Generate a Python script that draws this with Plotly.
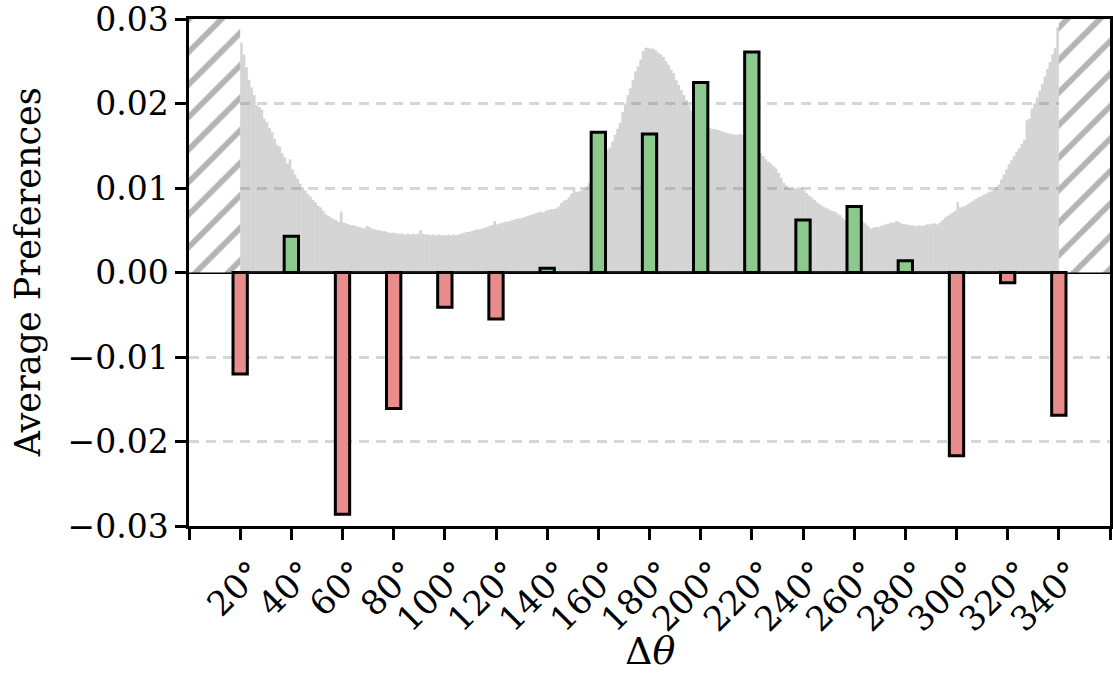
import plotly.graph_objects as go

# ---- data ----
angles = [20, 40, 60, 80, 100, 120, 140, 160, 180, 200, 220, 240, 260, 280, 300, 320, 340]
prefs = [-0.0120, 0.0043, -0.0286, -0.0161, -0.0041, -0.0055, 0.0005, 0.0166, 0.0164,
         0.0225, 0.0261, 0.0062, 0.0078, 0.0014, -0.0217, -0.0012, -0.0169]

hist_start = 20   # first histogram bin edge (degrees), bins are 1 degree wide
hist_vals = [
    0.0272, 0.0258, 0.0243, 0.0228, 0.0219, 0.0210, 0.0198, 0.0196, 0.0193, 0.0182,
    0.0178, 0.0171, 0.0166, 0.0158, 0.0151, 0.0149, 0.0141, 0.0136, 0.0129, 0.0134,
    0.0122, 0.0116, 0.0111, 0.0105, 0.0101, 0.0097, 0.0093, 0.0090, 0.0086, 0.0083,
    0.0079, 0.0077, 0.0073, 0.0069, 0.0067, 0.0065, 0.0063, 0.0062, 0.0060, 0.0072,
    0.0059, 0.0058, 0.0057, 0.0056, 0.0056, 0.0055, 0.0054, 0.0053, 0.0052, 0.0055,
    0.0054, 0.0052, 0.0051, 0.0050, 0.0050, 0.0049, 0.0049, 0.0048, 0.0047, 0.0047,
    0.0047, 0.0046, 0.0046, 0.0046, 0.0045, 0.0046, 0.0045, 0.0046, 0.0045, 0.0046,
    0.0050, 0.0046, 0.0045, 0.0045, 0.0044, 0.0045, 0.0044, 0.0045, 0.0044, 0.0044,
    0.0044, 0.0045, 0.0044, 0.0045, 0.0044, 0.0045, 0.0046, 0.0047, 0.0048, 0.0048,
    0.0049, 0.0050, 0.0051, 0.0051, 0.0052, 0.0053, 0.0054, 0.0055, 0.0056, 0.0061,
    0.0057, 0.0058, 0.0059, 0.0060, 0.0060, 0.0061, 0.0062, 0.0063, 0.0064, 0.0064,
    0.0065, 0.0066, 0.0067, 0.0068, 0.0069, 0.0070, 0.0071, 0.0072, 0.0071, 0.0073,
    0.0074, 0.0075, 0.0075, 0.0076, 0.0078, 0.0082, 0.0085, 0.0086, 0.0089, 0.0093,
    0.0101, 0.0095, 0.0096, 0.0097, 0.0099, 0.0102, 0.0106, 0.0112, 0.0120, 0.0128,
    0.0134, 0.0138, 0.0142, 0.0145, 0.0148, 0.0155, 0.0163, 0.0170, 0.0177, 0.0190,
    0.0200, 0.0210, 0.0218, 0.0228, 0.0238, 0.0244, 0.0252, 0.0262, 0.0266, 0.0266,
    0.0265, 0.0265, 0.0263, 0.0260, 0.0258, 0.0255, 0.0250, 0.0246, 0.0240, 0.0236,
    0.0228, 0.0222, 0.0216, 0.0210, 0.0204, 0.0198, 0.0192, 0.0186, 0.0180, 0.0176,
    0.0173, 0.0172, 0.0171, 0.0171, 0.0170, 0.0170, 0.0169, 0.0168, 0.0167, 0.0166,
    0.0165, 0.0164, 0.0164, 0.0163, 0.0163, 0.0164, 0.0163, 0.0160, 0.0158, 0.0155,
    0.0150, 0.0147, 0.0144, 0.0141, 0.0138, 0.0134, 0.0131, 0.0129, 0.0126, 0.0123,
    0.0118, 0.0112, 0.0106, 0.0103, 0.0100, 0.0099, 0.0099, 0.0100, 0.0101, 0.0100,
    0.0097, 0.0094, 0.0091, 0.0089, 0.0086, 0.0083, 0.0081, 0.0079, 0.0077, 0.0076,
    0.0074, 0.0073, 0.0072, 0.0070, 0.0068, 0.0065, 0.0062, 0.0060, 0.0058, 0.0057,
    0.0057, 0.0058, 0.0059, 0.0060, 0.0058, 0.0055, 0.0052, 0.0053, 0.0054, 0.0054,
    0.0055, 0.0056, 0.0057, 0.0058, 0.0059, 0.0059, 0.0061, 0.0060, 0.0058, 0.0057,
    0.0057, 0.0056, 0.0056, 0.0055, 0.0055, 0.0056, 0.0055, 0.0056, 0.0057, 0.0057,
    0.0058, 0.0058, 0.0057, 0.0059, 0.0062, 0.0065, 0.0067, 0.0069, 0.0071, 0.0073,
    0.0083, 0.0077, 0.0078, 0.0079, 0.0081, 0.0083, 0.0085, 0.0087, 0.0089, 0.0090,
    0.0092, 0.0093, 0.0095, 0.0096, 0.0098, 0.0101, 0.0104, 0.0110, 0.0116, 0.0122,
    0.0128, 0.0133, 0.0138, 0.0143, 0.0147, 0.0152, 0.0157, 0.0180, 0.0182, 0.0194,
    0.0200, 0.0207, 0.0215, 0.0223, 0.0232, 0.0241, 0.0249, 0.0258, 0.0266, 0.0290,
]

excluded_centers = [10, 350]   # hatched (excluded) angle ranges
excluded_width = 20
y_range = [-0.03, 0.03]
y_ticks = [-0.03, -0.02, -0.01, 0.0, 0.01, 0.02, 0.03]
x_ticks = list(range(0, 361, 20))
x_ticktext = [f"{a}°" if a in angles else "" for a in x_ticks]

FONT = "DejaVu Serif"
GREEN = "#8cc98c"
RED = "#e88c8c"

fig = go.Figure()

# hatched excluded regions
fig.add_trace(go.Bar(
    x=excluded_centers, y=[y_range[1]] * len(excluded_centers), base=0,
    width=excluded_width,
    marker=dict(color="white", line=dict(width=0),
                pattern=dict(shape="/", fgcolor="#6a6a6a", bgcolor="white",
                             size=23, solidity=0.25)),
    hoverinfo="skip", showlegend=False))

# grey background histogram
hist_x = [hist_start + i + 0.5 for i in range(len(hist_vals))]
fig.add_trace(go.Bar(
    x=hist_x, y=hist_vals, width=1,
    marker=dict(color="rgba(120,120,120,0.32)", line=dict(width=0)),
    showlegend=False))

# preference bars
fig.add_trace(go.Bar(
    x=angles, y=prefs, width=5.6,
    marker=dict(color=[GREEN if v > 0 else RED for v in prefs],
                line=dict(color="black", width=3)),
    showlegend=False))

fig.update_layout(
    width=1113, height=682,
    margin=dict(l=189, r=3, t=19, b=156),
    paper_bgcolor="white", plot_bgcolor="white",
    barmode="overlay",
    font=dict(family=FONT, size=36, color="black"),
    xaxis=dict(range=[0, 360], tickmode="array", tickvals=x_ticks, ticktext=x_ticktext,
               tickangle=-45, ticks="outside", ticklen=11, tickwidth=2.5, tickcolor="black",
               showline=True, linecolor="black", linewidth=2.5, mirror=True,
               showgrid=False, zeroline=False, automargin=False,
               ticklabelshift=12,
               tickfont=dict(family=FONT, size=34)),
    yaxis=dict(range=y_range, tickmode="array", tickvals=y_ticks,
               ticktext=[f"{v:.2f}".replace("-", "−") for v in y_ticks],
               ticklabeloverflow="allow", automargin=False,
               ticks="outside", ticklen=11, tickwidth=2.5, tickcolor="black",
               showline=True, linecolor="black", linewidth=2.5, mirror=True,
               showgrid=True, gridcolor="#d6d6d6", gridwidth=2.5, griddash="10px,7px",
               zeroline=True, zerolinecolor="black", zerolinewidth=2.5,
               tickfont=dict(family=FONT, size=33)),
    annotations=[
        dict(text="Average Preferences", xref="paper", yref="paper", x=-0.175, y=0.5,
             textangle=-90, showarrow=False, xanchor="center", yanchor="middle",
             font=dict(family=FONT, size=35)),
        dict(text="Δ<i>θ</i>", xref="paper", yref="paper", x=0.5, y=-0.2,
             showarrow=False, xanchor="center", yanchor="top",
             font=dict(family=FONT, size=38)),
    ],
)

fig.write_html("out.html")
